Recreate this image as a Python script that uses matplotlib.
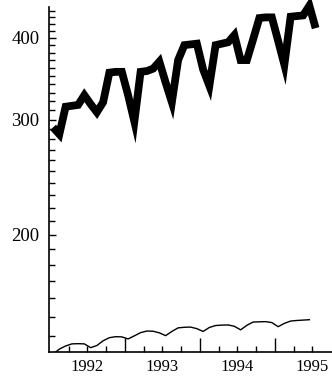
import matplotlib
matplotlib.use("Agg")
import matplotlib.pyplot as plt
import numpy as np
from matplotlib.ticker import FixedLocator, NullFormatter, FuncFormatter

# monthly series starting July 1991 (mid-month positions)
start_year = 1991.5
thick_values = [292, 285, 314, 315, 316, 327, 317, 308, 319, 354, 355, 355,
                327, 298, 355, 356, 359, 368, 342, 319, 370, 390, 391, 392,
                358, 338, 390, 392, 394, 404, 370, 370, 398, 429, 430, 430,
                396, 364, 431, 432, 433, 448, 414]
thin_values = [131.5, 133.8, 135.3, 136.3, 136.4, 136.3, 134.5, 135.5, 137.8,
               139.3, 139.8, 139.7, 138.7, 140.2, 141.8, 142.6, 142.5, 141.7,
               140.3, 142.4, 144.2, 144.5, 144.6, 143.8, 142.4, 144.4, 145.4,
               145.6, 145.7, 145.0, 143.2, 145.5, 147.2, 147.3, 147.4, 146.9,
               144.8, 146.5, 147.7, 148.0, 148.2, 148.4]
year_labels = [1992, 1993, 1994, 1995]
y_labels = [200, 300, 400]

thick_x = start_year + (np.arange(len(thick_values)) + 0.5) / 12
thin_x = start_year + (np.arange(len(thin_values)) + 0.5) / 12

fig = plt.figure(figsize=(3.32, 3.78), dpi=100)
ax = fig.add_axes([49/332, 26.3/378, (332-49)/332, (351.7-7)/378])

ax.plot(thick_x, thick_values, color="black", lw=5.6, solid_joinstyle="miter",
        solid_capstyle="butt", clip_on=False)
ax.plot(thin_x, thin_values, color="black", lw=1.0, solid_joinstyle="round")

ax.set_yscale("log")
ax.set_ylim(132.6, 446)
ax.set_xlim(1991.487, 1995.26)

for s in ["top", "right"]:
    ax.spines[s].set_visible(False)
for s in ["left", "bottom"]:
    ax.spines[s].set_linewidth(1.2)

# y ticks
ax.yaxis.set_major_locator(FixedLocator(y_labels))
ax.yaxis.set_major_formatter(FuncFormatter(lambda v, p: f"{int(round(v))}"))
ax.yaxis.set_minor_locator(FixedLocator([v for v in range(140, 450, 10) if v not in y_labels]))
ax.yaxis.set_minor_formatter(NullFormatter())
ax.tick_params(axis="y", which="both", direction="in", width=1.0)
ax.tick_params(axis="y", which="major", length=5, pad=7)
ax.tick_params(axis="y", which="minor", length=4)

# x ticks: quarters, long ticks at mid-year, labels at year starts
quarters = [1991.75 + 0.25 * i for i in range(14)]
ax.xaxis.set_major_locator(FixedLocator(quarters))
ax.xaxis.set_major_formatter(FuncFormatter(
    lambda v, p: f"{int(round(v))}" if abs(v - round(v)) < 1e-6 and int(round(v)) in year_labels else ""))
ax.tick_params(axis="x", which="major", direction="in", length=4, width=1.0, pad=5)
for t, q in zip(ax.xaxis.get_major_ticks(), quarters):
    if abs((q % 1) - 0.5) < 1e-6:
        t.tick1line.set_markersize(10)

for lab in ax.get_xticklabels():
    lab.set_fontfamily("Liberation Serif")
    lab.set_fontsize(12)
for lab in ax.get_yticklabels():
    lab.set_fontfamily("Liberation Serif")
    lab.set_fontsize(13.5)

fig.savefig("out.png", dpi=100)
